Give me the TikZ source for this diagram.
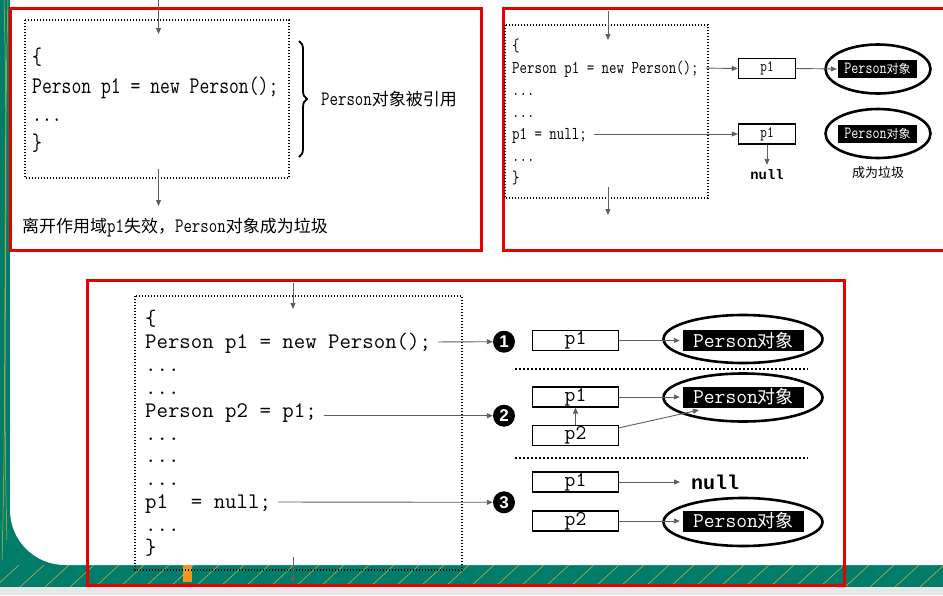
\documentclass[tikz,border=0pt]{standalone}
\usepackage{fontspec}
\setsansfont{Liberation Sans}
\newfontfamily\cjk{Noto Sans CJK SC}
\newfontfamily\boldmono{Liberation Mono}
\newfontfamily\bitmono{Latin Modern Mono}[FakeStretch=0.8]
\usetikzlibrary{shapes.geometric, arrows.meta, decorations.pathreplacing}
\definecolor{slidered}{RGB}{232, 0, 0}
\definecolor{slideteal}{RGB}{0, 124, 104}
\definecolor{slidegrey}{RGB}{232, 232, 232}
\definecolor{bandline}{RGB}{205, 185, 70}
\definecolor{bandorange}{RGB}{240, 150, 30}
\definecolor{arrowgray}{RGB}{95, 95, 95}
\newcommand{\ptsize}[1]{\fontsize{#1}{#1}\selectfont}
\tikzset{
  panel/.style={draw=slidered, line width=3pt},
  codebox/.style={draw=black, line width=1.2pt, dash pattern=on 1.4pt off 1.6pt},
  sepline/.style={draw=black, line width=1.2pt, dash pattern=on 2pt off 2pt},
  flow/.style={draw=arrowgray, line width=0.9pt, -{Triangle[length=6pt, width=5pt]}},
  scopebrace/.style={decorate, decoration={brace, amplitude=8pt}, line width=1.8pt},
  codeline/.style={anchor=west, inner sep=0pt, text depth=0pt},
  codeA/.style={codeline, font=\bitmono\ptsize{23.9}, text height=14.6pt},
  codeB/.style={codeline, font=\bitmono\ptsize{18.1}, text height=11pt},
  codeC/.style={codeline, font=\ttfamily\ptsize{22.2}, text height=13.3pt},
  noteA/.style={anchor=west, inner sep=0pt, font=\cjk\ptsize{17}},
  refbox/.style={draw=black, line width=1.3pt, inner sep=0pt},
  refB/.style={refbox, minimum width=57, minimum height=20, font=\bitmono\ptsize{16}},
  refC/.style={refbox, minimum width=86, minimum height=20, font=\ttfamily\ptsize{21}},
  objring/.style={ellipse, draw=black, line width=2.6pt, inner sep=0pt},
  objB/.style={objring, minimum width=105, minimum height=49},
  objC/.style={objring, minimum width=159, minimum height=48},
  objtag/.style={fill=black, text=white, inner sep=0pt},
  tagB/.style={objtag, minimum width=79, minimum height=18, font=\bitmono\ptsize{17.1}},
  tagC/.style={objtag, minimum width=121, minimum height=21, font=\ttfamily\ptsize{21}},
  stepnum/.style={circle, fill=black, text=white, inner sep=0pt, minimum size=22, font=\sffamily\bfseries\ptsize{17}},
}

\begin{document}
\begin{tikzpicture}[x=1pt, y=-1pt]
  \useasboundingbox (0,0) rectangle (943,595);
  % slide background
  \fill[slideteal] (0,0) rectangle (943,587);
  \fill[white, rounded corners=55pt] (10,-80) -- (10,565) -- (1020,565) -- (1020,-80) -- cycle;
  \fill[slidegrey] (0,587) rectangle (943,595);
  \fill[bandorange] (183,565) rectangle (192,582);
  \begin{scope}
    \clip (0,565) rectangle (943,587);
    \foreach \x in {-30,-5,...,960}
      \draw[bandline, line width=0.5pt] (\x,587) -- (\x+24,565);
  \end{scope}
  \draw[bandline, line width=0.5pt] (8,0) .. controls (3,200) and (7,380) .. (2,560);
  \draw[bandline, line width=0.5pt] (4,0) .. controls (9,180) and (2,360) .. (7,540);

  % panel A: scope ends
  \draw[panel] (10,8) rectangle (481,250);
  \draw[codebox] (25,20) rectangle (289,178);
  \node[codeA] (a1) at (32,57.5) {\{};
  \node[codeA] (a2) at (32,86) {Person p1 = new Person();};
  \node[codeA] (a3) at (32,114.5) {...};
  \node[codeA] (a4) at (32,143) {\}};
  \draw[scopebrace] (299,41) -- (299,157);
  \node[noteA] (held) at (321,99) {{\bitmono\ptsize{20.5}Person}对象被引用};
  \node[noteA] (lost) at (22,228) {离开作用域{\bitmono\ptsize{20.5}p1}失效，{\bitmono\ptsize{20.5}Person}对象成为垃圾};
  \coordinate (aIn) at (158.5,0);
  \coordinate (aInEnd) at (158.5,34);
  \coordinate (aOut) at (158.5,169);
  \coordinate (aOutEnd) at (158.5,206);
  \draw[flow] (aIn) -- (aInEnd);
  \draw[flow] (aOut) -- (aOutEnd);

  % panel B: reference set to null
  \draw[panel] (503,8) rectangle (960,250);
  \draw[codebox] (505,25) rectangle (708,198);
  \node[codeB] (b1) at (512,46) {\{};
  \node[codeB] (b2) at (512,68) {Person p1 = new Person();};
  \node[codeB] (b3) at (512,90) {...};
  \node[codeB] (b4) at (512,112) {...};
  \node[codeB] (b5) at (512,134) {p1 = null;};
  \node[codeB] (b6) at (512,156) {...};
  \node[codeB] (b7) at (512,178) {\}};
  \node[refB] (bp1) at (767,68.5) {p1};
  \node[refB] (bp2) at (767,134) {p1};
  \node[objB] (be1) at (878,69) {};
  \node[tagB] (bt1) at (877.5,69) {Person{\cjk\ptsize{12}对象}};
  \node[objB] (be2) at (878,133.5) {};
  \node[tagB] (bt2) at (877.5,133.5) {Person{\cjk\ptsize{12}对象}};
  \node[anchor=base, inner sep=0pt, font=\boldmono\bfseries\ptsize{13.8}] (bnull) at (767,179) {null};
  \node[inner sep=0pt, font=\cjk\ptsize{13}] (bgarb) at (878,173) {成为垃圾};
  \coordinate (bIn) at (608,11);
  \coordinate (bInEnd) at (608,40);
  \coordinate (bOut) at (608,187);
  \coordinate (bOutEnd) at (608,215);
  \draw[flow] (bIn) -- (bInEnd);
  \draw[flow] (bOut) -- (bOutEnd);
  \draw[flow, shorten <=7pt] (b2.east) -- (bp1.west);
  \draw[flow, shorten <=7pt] (b5.east) -- (bp2.west);
  \draw[flow, shorten >=1pt] (bp1.east) -- (bt1.west);
  \draw[flow, shorten >=4pt] (bp2.south) -- (bnull.north);

  % panel C: two references
  \draw[panel] (87,280) rectangle (844,585);
  \draw[codebox] (135,296) rectangle (462,570);
  \node[codeC] (c1) at (145,319.1) {\{};
  \node[codeC] (c2) at (145,342) {Person p1 = new Person();};
  \node[codeC] (c3) at (145,364.9) {...};
  \node[codeC] (c4) at (145,387.7) {...};
  \node[codeC] (c5) at (145,410.6) {Person p2 = p1;};
  \node[codeC] (c6) at (145,433.4) {...};
  \node[codeC] (c7) at (145,456.3) {...};
  \node[codeC] (c8) at (145,479.1) {...};
  \node[codeC] (c9) at (145,502) {p1~~= null;};
  \node[codeC] (c10) at (145,524.9) {...};
  \node[codeC] (c11) at (145,547.7) {\}};
  \node[stepnum] (n1) at (504,341.7) {1};
  \node[stepnum] (n2) at (504,415.7) {2};
  \node[stepnum] (n3) at (504,502.3) {3};

  \node[refC] (r1a) at (575.5,340.5) {p1};
  \node[objC] (ce1) at (743,339) {};
  \node[tagC] (ct1) at (743.5,340.5) {Person{\cjk\ptsize{18}对象}};
  \draw[sepline] (515,369) -- (808,369);

  \node[refC] (r2a) at (575.5,397) {p1};
  \node[refC] (r2b) at (575.5,435.5) {p2};
  \node[objC] (ce2) at (743,397.5) {};
  \node[tagC] (ct2) at (743.5,397) {Person{\cjk\ptsize{18}对象}};
  \coordinate (ce2hit) at (699,410);
  \draw[sepline] (515,458) -- (808,458);

  \node[refC] (r3a) at (575.5,482) {p1};
  \node[anchor=west, inner sep=0pt, font=\boldmono\bfseries\ptsize{20}] (cnull) at (691,482) {null};
  \node[refC] (r3b) at (575.5,521) {p2};
  \node[objC] (ce3) at (743,522) {};
  \node[tagC] (ct3) at (743.5,521) {Person{\cjk\ptsize{18}对象}};

  \coordinate (cIn) at (293,283);
  \coordinate (cInEnd) at (293,309);
  \coordinate (cOut) at (293,557);
  \coordinate (cOutEnd) at (293,583);
  \draw[flow] (cIn) -- (cInEnd);
  \draw[flow] (cOut) -- (cOutEnd);
  \draw[flow, shorten <=7pt] (c2.east) -- (n1.west);
  \draw[flow, shorten <=7pt] (c5.east |- n2.west) -- (n2.west);
  \draw[flow, shorten <=7pt] (c9.east) -- (n3.west);
  \draw[flow, shorten >=3pt] (r1a.east) -- (ct1.west);
  \draw[flow, shorten >=3pt] (r2a.east) -- (ct2.west);
  \draw[flow] (r2b.north) -- (r2a.south);
  \draw[flow] (r2b.10) -- (ce2hit);
  \draw[flow, shorten >=11pt] (r3a.east) -- (cnull.west);
  \draw[flow, shorten >=3pt] (r3b.east) -- (ct3.west);
\end{tikzpicture}
\end{document}
